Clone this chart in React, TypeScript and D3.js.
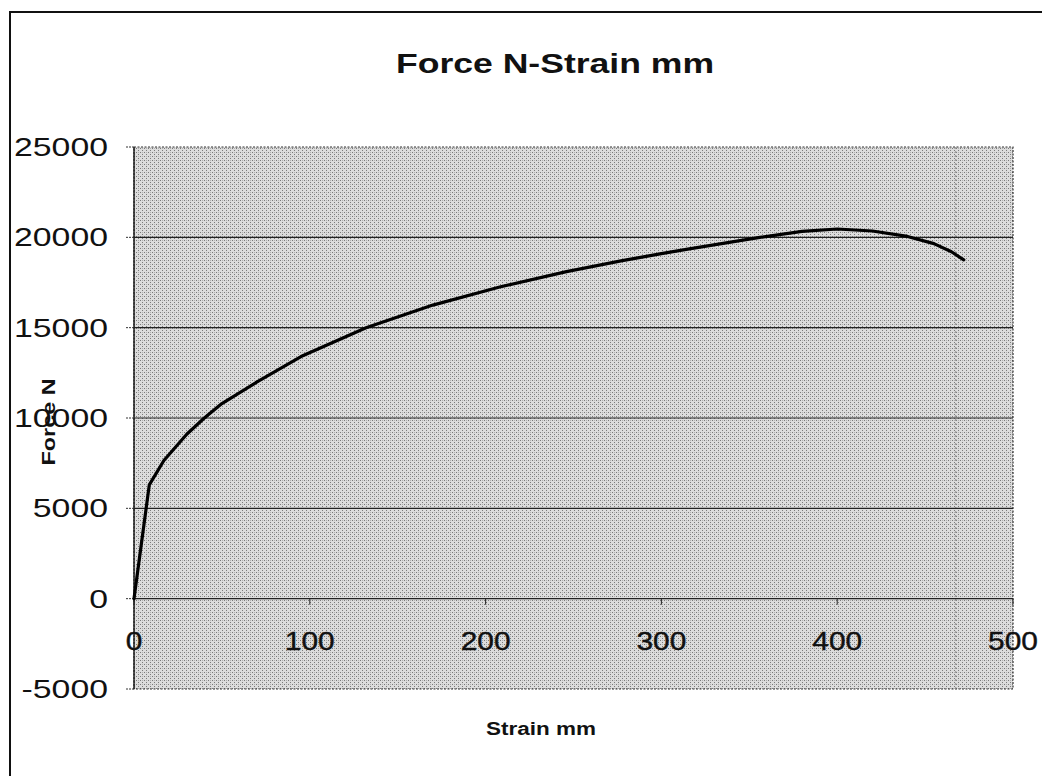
import React from 'react';
import { scaleLinear, line, curveLinear } from 'd3';

const strainMm = [0, 8.7, 17, 30, 40, 50, 70, 95, 132, 170, 208, 246, 277, 300, 315, 356, 380, 400, 420, 440, 455, 465, 472];
const forceN = [0, 6300, 7650, 9100, 10000, 10800, 12000, 13400, 15000, 16250, 17250, 18100, 18700, 19100, 19350, 20000, 20330, 20460, 20350, 20050, 19650, 19200, 18750];

const yTicks = [-5000, 0, 5000, 10000, 15000, 20000, 25000];
const xTicks = [0, 100, 200, 300, 400, 500];

const title = 'Force N-Strain mm';
const xTitle = 'Strain mm';
const yTitle = 'Force N';

const W = 1042, H = 776;
const plot = { left: 134, right: 1013, top: 147, bottom: 689 };
const font = 'Arial, "Liberation Sans", Helvetica, sans-serif';

export default function App() {
  const x = scaleLinear().domain([0, 500]).range([plot.left, plot.right]);
  const y = scaleLinear().domain([-5000, 25000]).range([plot.bottom, plot.top]);

  const pts = strainMm.map((s, i) => [s, forceN[i]] as [number, number]);
  const path = line<[number, number]>()
    .x(d => x(d[0]))
    .y(d => y(d[1]))
    .curve(curveLinear)(pts) || '';

  const lastX = x(strainMm[strainMm.length - 1]) - 8;

  return (
    <svg width={W} height={H} style={{ position: 'absolute', left: 0, top: 0, background: '#fff' }}>
      <defs>
        <pattern id="dots" width={4} height={4} patternUnits="userSpaceOnUse">
          <rect width={4} height={4} fill="#dcdcdc" />
          <rect x={0} y={0} width={1} height={1} fill="#7a7a7a" />
          <rect x={2} y={2} width={1} height={1} fill="#7a7a7a" />
          <rect x={2} y={0} width={1} height={1} fill="#b0b0b0" />
        </pattern>
      </defs>

      {/* outer frame */}
      <rect x={10} y={12} width={W} height={H} fill="none" stroke="#111" strokeWidth={2} />

      <text transform={`translate(555,73) scale(1.27,1)`} textAnchor="middle"
        fontFamily={font} fontWeight="bold" fontSize={28} fill="#111">{title}</text>

      {/* plot area */}
      <rect x={plot.left} y={plot.top} width={plot.right - plot.left} height={plot.bottom - plot.top}
        fill="url(#dots)" stroke="#333" strokeWidth={1.2} strokeDasharray="2,1.5" />

      {/* scan fold line */}
      <line x1={lastX} x2={lastX} y1={plot.top} y2={plot.bottom} stroke="#8a8a8a" strokeWidth={1} strokeDasharray="2,2" />

      {yTicks.map(t => (
        <g key={t}>
          {t > -5000 && t < 25000 && (
            <line x1={plot.left} x2={plot.right} y1={y(t)} y2={y(t)} stroke="#222" strokeWidth={1.2} />
          )}
          <line x1={plot.left - 8} x2={plot.left} y1={y(t)} y2={y(t)} stroke="#333" strokeWidth={1} strokeDasharray="2,1" />
          <text transform={`translate(108,${y(t) + 9}) scale(1.3,1)`} textAnchor="end"
            fontFamily={font} fontSize={26} fill="#111">{t}</text>
        </g>
      ))}

      {/* y axis line */}
      <line x1={plot.left} x2={plot.left} y1={plot.top} y2={plot.bottom} stroke="#222" strokeWidth={1.5} />

      {xTicks.map(t => (
        <g key={t}>
          <line x1={x(t)} x2={x(t)} y1={y(0)} y2={y(0) + 6} stroke="#222" strokeWidth={1} />
          <text transform={`translate(${x(t)},650) scale(1.15,1)`} textAnchor="middle"
            fontFamily={font} fontSize={26} fill="#111" stroke="#111" strokeWidth={0.4}>{t}</text>
        </g>
      ))}

      <path d={path} fill="none" stroke="#000" strokeWidth={3.2} strokeLinejoin="round" strokeLinecap="round" />

      <text transform={`translate(541,735) scale(1.25,1)`} textAnchor="middle"
        fontFamily={font} fontWeight="bold" fontSize={18} fill="#111">{xTitle}</text>

      <text transform={`translate(55,422) rotate(-90) scale(1.3,1)`} textAnchor="middle"
        fontFamily={font} fontWeight="bold" fontSize={18} fill="#111">{yTitle}</text>
    </svg>
  );
}
